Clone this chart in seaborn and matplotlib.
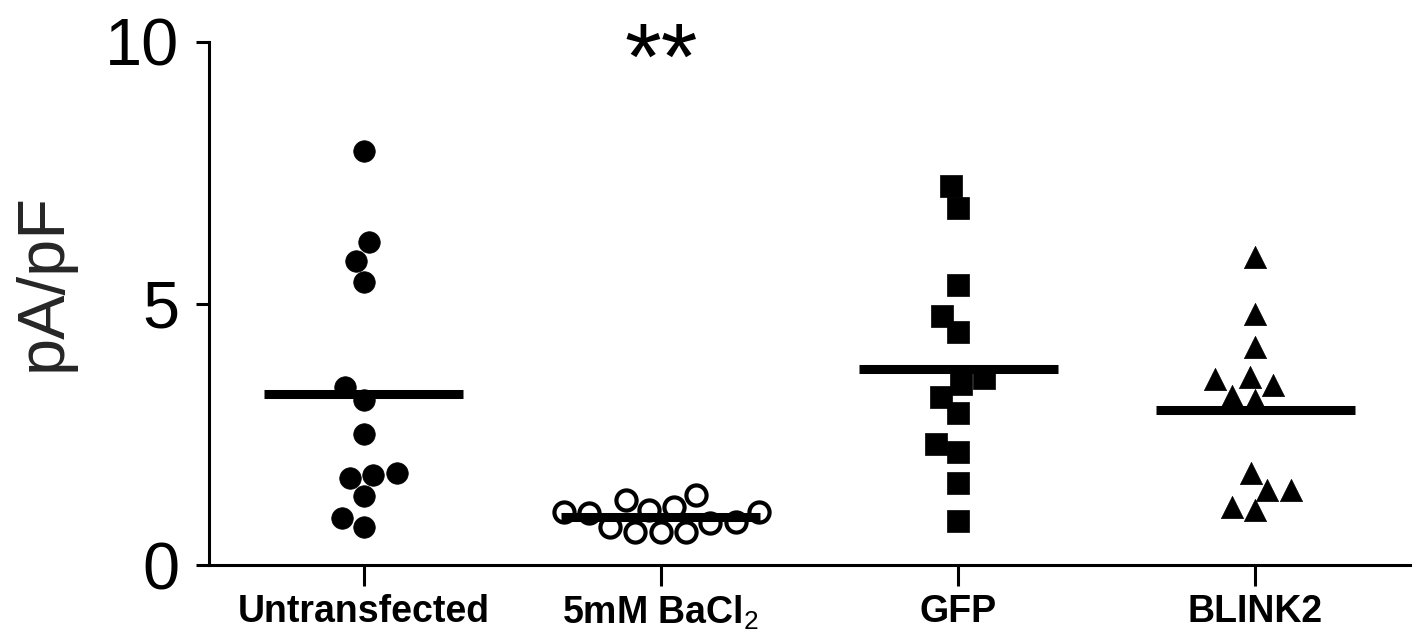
import numpy as np
import pandas as pd
import matplotlib
matplotlib.use("Agg")
import matplotlib.pyplot as plt
import seaborn as sns

categories = ["Untransfected", "5mM BaCl$_\\mathrm{2}$", "GFP", "BLINK2"]

untransfected = [7.91, 6.17, 5.82, 5.42, 3.40, 3.15, 2.50, 1.73, 1.67, 1.75, 1.32, 0.89, 0.73]
bacl2 = [0.99, 1.02, 0.80, 0.64, 1.11, 0.64, 1.34, 0.64, 1.24, 0.73, 0.83, 1.02, 1.05]
gfp = [7.24, 6.82, 5.36, 4.77, 4.45, 3.58, 3.47, 3.21, 2.90, 2.32, 2.16, 1.56, 0.85]
blink2 = [5.88, 4.80, 4.17, 3.59, 3.45, 3.56, 3.15, 3.24, 1.75, 1.43, 1.44, 1.05, 1.10]

y_ticks = [0, 5, 10]
y_label = "pA/pF"
significance = "**"

groups = [untransfected, bacl2, gfp, blink2]

sns.set_theme(style="ticks")
plt.rcParams["font.family"] = ["Liberation Sans", "DejaVu Sans"]
plt.rcParams["mathtext.fontset"] = "custom"
plt.rcParams["mathtext.rm"] = "Liberation Sans"

fig = plt.figure(figsize=(14.18, 6.34), dpi=100)
ax = fig.add_axes([209 / 1418, 1 - 565 / 634, (1410 - 209) / 1418, (565 - 42) / 634])

styles = [
    dict(marker="o", color="black", size=15.5, linewidth=0.5, edgecolor="black"),
    dict(marker="o", color="white", size=14.5, linewidth=3, edgecolor="black"),
    dict(marker="s", color="black", size=16, linewidth=0.5, edgecolor="black"),
    dict(marker="^", color="black", size=16, linewidth=0.5, edgecolor="black"),
]

for cat, vals, st in zip(categories, groups, styles):
    df = pd.DataFrame({"group": [cat] * len(vals), "value": vals})
    sns.swarmplot(data=df, x="group", y="value", order=categories, ax=ax,
                  zorder=3, clip_on=False, **st)

means = [np.mean(g) for g in groups]
for i, m in enumerate(means):
    ax.hlines(m, i - 0.335, i + 0.335, color="black", linewidth=6.5, zorder=4)

ax.set_xlim(-0.52, 3.52)
ax.set_ylim(0, 10)
ax.set_yticks(y_ticks)
ax.set_yticklabels([str(t) for t in y_ticks], fontsize=48)
ax.set_xticks(range(len(categories)))
ax.set_xticklabels(categories, fontsize=27, fontweight="bold")
ax.set_xlabel("")
ax.set_ylabel(y_label, fontsize=48)
ax.yaxis.set_label_coords(-0.112, 0.541)

sns.despine(ax=ax)
for s in ["left", "bottom"]:
    ax.spines[s].set_linewidth(2.2)
    ax.spines[s].set_color("black")
ax.tick_params(axis="y", length=9.5, width=2.2, pad=12, colors="black")
ax.tick_params(axis="x", length=15, width=2.2, pad=6, colors="black")

ax.text(1, 9.58, significance, ha="center", va="center", fontsize=68, color="black",
        clip_on=False)

fig.savefig("out.png", dpi=100)
